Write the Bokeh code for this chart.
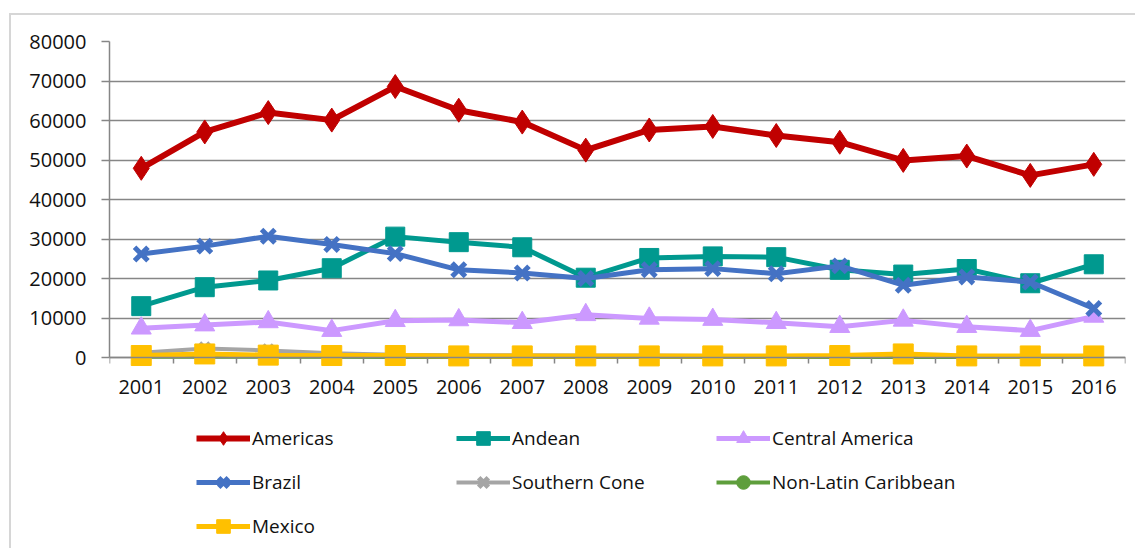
from bokeh.plotting import figure
from bokeh.models import (Range1d, FixedTicker, Legend, LegendItem,
                          BasicTickFormatter)
from bokeh.embed import file_html
from bokeh.resources import INLINE

years = [2001, 2002, 2003, 2004, 2005, 2006, 2007, 2008,
         2009, 2010, 2011, 2012, 2013, 2014, 2015, 2016]

americas = [47900, 57100, 62000, 60100, 68600, 62600, 59600, 52500,
            57600, 58500, 56200, 54500, 49900, 51000, 46100, 48900]
andean = [13000, 17800, 19500, 22600, 30600, 29200, 27900, 20200,
          25200, 25600, 25400, 22200, 21000, 22400, 18800, 23600]
central_america = [7400, 8200, 9000, 6800, 9300, 9500, 8800, 10800,
                   9900, 9600, 8800, 7800, 9400, 7800, 6800, 10400]
brazil = [26200, 28200, 30700, 28600, 26300, 22200, 21400, 20000,
          22200, 22500, 21200, 23200, 18300, 20400, 19100, 12400]
southern_cone = [1200, 2300, 1800, 1100, 700, 600, 600, 500,
                 500, 400, 400, 400, 200, 400, 400, 400]
non_latin_caribbean = [200, 200, 200, 200, 100, 100, 100, 100,
                       100, 100, 100, 100, 100, 100, 100, 100]
mexico = [500, 900, 600, 500, 500, 400, 400, 400,
          400, 400, 400, 500, 900, 400, 400, 400]

y_ticks = [0, 10000, 20000, 30000, 40000, 50000, 60000, 70000, 80000]

series = [
    ("Americas", americas, "#C00000", "diamond", 24, 6),
    ("Andean", andean, "#00998F", "square", 19, 5),
    ("Central America", central_america, "#CC99FF", "triangle", 20, 5),
    ("Brazil", brazil, "#4472C4", "x", 19, 5),
    ("Southern Cone", southern_cone, "#A5A5A5", "x", 15, 4),
    ("Non-Latin Caribbean", non_latin_caribbean, "#5E9E3C", "circle", 8, 4),
    ("Mexico", mexico, "#FFC000", "square", 20, 5),
]

FONT = "Open Sans"
AXIS_GRAY = "#868686"

# frame: 0 -> 316 px -> 80000; extra room below 0 holds the legend
Y_BOTTOM = -48860

p = figure(width=1126, height=535, output_backend="svg", toolbar_location=None,
           x_range=Range1d(2000.5, 2016.5), y_range=Range1d(Y_BOTTOM, 80000),
           min_border_left=98, min_border_top=26, min_border_right=12,
           min_border_bottom=0,
           margin=(13, 0, 0, 9),
           styles={"border-left": "2px solid #d6d6d6",
                   "border-top": "2px solid #d6d6d6"})
p.outline_line_color = None
p.background_fill_color = "white"
p.border_fill_color = "white"

# y axis
p.yaxis.ticker = FixedTicker(ticks=y_ticks)
p.yaxis.bounds = (0, 80000)
p.yaxis.formatter = BasicTickFormatter(use_scientific=False)
p.yaxis.axis_line_color = AXIS_GRAY
p.yaxis.axis_line_width = 1.5
p.yaxis.major_tick_line_color = AXIS_GRAY
p.yaxis.major_tick_line_width = 1.5
p.yaxis.major_tick_out = 8
p.yaxis.major_tick_in = 0
p.yaxis.minor_tick_line_color = None
p.yaxis.major_label_standoff = 15
p.yaxis.major_label_text_font = FONT
p.yaxis.major_label_text_font_size = "20px"
p.yaxis.major_label_text_color = "#111111"

# x axis at y = 0 (ticks between categories)
p.xaxis.fixed_location = 0
p.xaxis.ticker = FixedTicker(ticks=years,
                             minor_ticks=[y - 0.5 for y in years] + [years[-1] + 0.5])
p.xaxis.formatter = BasicTickFormatter(use_scientific=False)
p.xaxis.axis_line_color = AXIS_GRAY
p.xaxis.axis_line_width = 1.5
p.xaxis.major_tick_line_color = None
p.xaxis.major_tick_out = 0
p.xaxis.major_tick_in = 0
p.xaxis.minor_tick_line_color = AXIS_GRAY
p.xaxis.minor_tick_line_width = 1.5
p.xaxis.minor_tick_out = 6
p.xaxis.minor_tick_in = 0
p.xaxis.major_label_standoff = 16
p.xaxis.major_label_text_font = FONT
p.xaxis.major_label_text_font_size = "20px"
p.xaxis.major_label_text_color = "#111111"

p.xgrid.grid_line_color = None
p.ygrid.ticker = FixedTicker(ticks=y_ticks)
p.ygrid.grid_line_color = AXIS_GRAY
p.ygrid.grid_line_width = 1.6

items = []
for name, vals, color, marker, size, lw in series:
    lr = p.line(years, vals, line_color=color, line_width=lw)
    if marker == "x":
        sr = p.scatter(years, vals, marker=marker, size=size, line_color=color,
                       line_width=5)
    else:
        sr = p.scatter(years, vals, marker=marker, size=size, fill_color=color,
                       line_color=color)
    items.append(LegendItem(label=name, renderers=[lr, sr]))

legend = Legend(items=items, orientation="horizontal", ncols=3,
                location=(87, 7), padding=0, margin=0,
                spacing=10, glyph_width=54, glyph_height=34,
                label_standoff=2, label_width=194, label_height=34,
                label_text_font=FONT, label_text_font_size="19px",
                label_text_color="#111111",
                border_line_color=None, background_fill_alpha=0)
p.add_layout(legend, "center")

open("out.html", "w").write(file_html(p, INLINE))
